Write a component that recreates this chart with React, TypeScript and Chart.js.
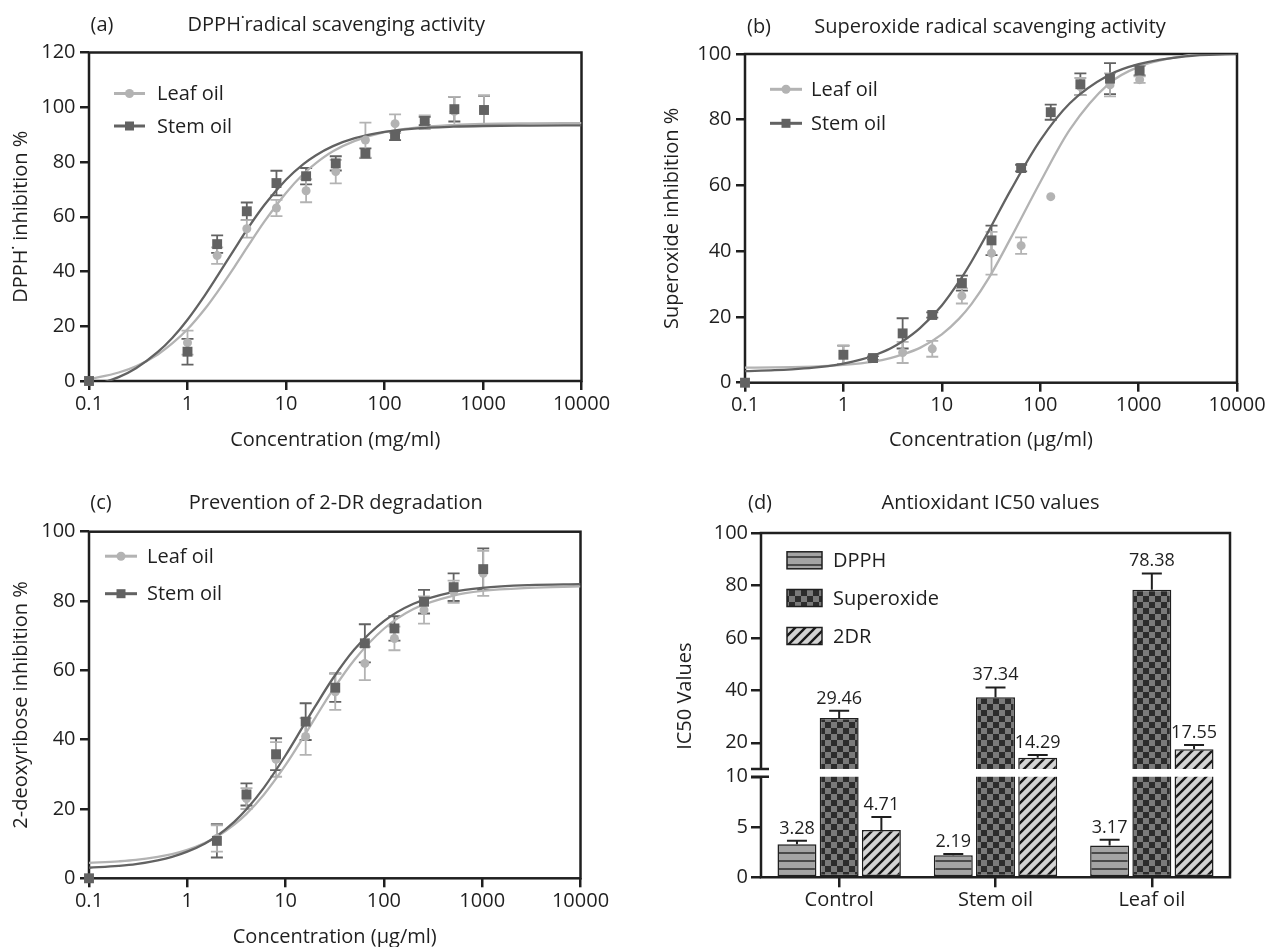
import React, { useEffect, useRef } from 'react';
import { Chart, registerables, LinearScale } from 'chart.js';

Chart.register(...registerables);

// ---------------- data ----------------
const seriesLabels = ['Leaf oil', 'Stem oil'];
const doses = [0.1, 1, 2, 4, 8, 16, 32, 64, 128, 256, 512, 1024];
const fitDoses = [0.1, 0.2, 0.3, 0.5, 0.7, 1, 1.5, 2, 3, 4, 6, 10, 15, 20, 30, 50, 100, 200, 500, 1000, 3000, 10000];
const logTicks = [0.1, 1, 10, 100, 1000, 10000];

// (a) DPPH
const dpphLeaf = [0, 14, 45.8, 55.6, 63.2, 69.5, 76.5, 88, 94, 94.5, 98.5, 98.8];
const dpphLeafSem = [0, 4.4, 3, 3.2, 3, 4.2, 4.3, 6.4, 3.4, 2.5, 5.3, 5.5];
const dpphStem = [0, 10.7, 50, 62, 72.3, 74.8, 79.5, 83.2, 89.5, 95, 99.3, 99];
const dpphStemSem = [0, 4.7, 3.2, 3.2, 4.5, 3, 2.6, 1.8, 1.5, 1.5, 4.5, 5.2];
const dpphLeafFit = [0.6, 3.1, 5.4, 9.7, 13.7, 18.9, 26.3, 32.4, 41.7, 48.6, 58.1, 68.7, 75.6, 79.5, 83.9, 87.7, 90.9, 92.5, 93.5, 93.9, 94.1, 94.2];
const dpphStemFit = [-2.2, 1.4, 4.65, 10.6, 15.7, 22.4, 31.3, 38.2, 48.2, 55.2, 64.2, 73.5, 79.2, 82.4, 85.8, 88.7, 91, 92.2, 92.9, 93.15, 93.3, 93.4];

// (b) Superoxide
const supLeaf = [0, 8.5, 7.5, 9.2, 10.3, 26.4, 39.4, 41.7, 56.6, 90.1, 90.6, 92.2];
const supLeafSem = [0, 2.8, 0.8, 3.2, 2.4, 2.3, 6.5, 2.5, 0, 2.6, 3.5, 1];
const supStem = [0, 8.5, 7.5, 15, 20.6, 30.3, 43.3, 65.3, 82.3, 90.8, 92.5, 95];
const supStemSem = [0, 2.8, 0.6, 4.6, 0.8, 2.3, 4.5, 1, 2.3, 3.3, 4.7, 1.5];
const supLeafFit = [4.57, 4.65, 4.74, 4.92, 5.1, 5.4, 5.9, 6.4, 7.5, 8.6, 10.6, 14.7, 19.5, 23.9, 31.8, 43.9, 61, 77, 91, 96.1, 99.5, 100.6];
const supStemFit = [3.55, 3.8, 4.06, 4.56, 5.06, 5.8, 7.0, 8.2, 10.4, 12.6, 16.6, 23.5, 30.8, 36.8, 46.2, 58.5, 73.7, 85, 93.6, 96.9, 99.3, 100.1];

// (c) 2-deoxyribose
const drLeaf = [0, null, 11.5, 23, 34.3, 40.9, 53.8, 62, 69.2, 77.4, 82.7, 88];
const drLeafSem = [0, 0, 3.8, 3, 5, 5.3, 5.2, 4.8, 3.4, 3.9, 3.2, 6.5];
const drStem = [0, null, 10.8, 24.2, 35.8, 45.2, 55, 67.8, 72.1, 79.8, 84, 89.2];
const drStemSem = [0, 0, 4.8, 3.2, 4.6, 5.3, 4.1, 5.5, 3.5, 3.4, 4, 6];
const drLeafFit = [4.45, 4.9, 5.3, 6.2, 7, 8.2, 10.2, 12, 15.5, 18.6, 24.1, 32.7, 40.5, 46.3, 54.2, 63, 72, 77.7, 81.5, 82.9, 83.8, 84.2];
const drStemFit = [3.05, 3.6, 4.1, 5.2, 6.2, 7.7, 10, 12.2, 16.3, 19.9, 26.1, 35.5, 43.75, 49.6, 57.5, 66, 74.2, 79.2, 82.6, 83.8, 84.6, 84.9];

// (d) IC50
const ic50Groups = ['Control', 'Stem oil', 'Leaf oil'];
const ic50Assays = ['DPPH', 'Superoxide', '2DR'];
const ic50Dpph = [3.28, 2.19, 3.17];
const ic50DpphSem = [0.35, 0.14, 0.56];
const ic50Superoxide = [29.46, 37.34, 78.38];
const ic50SuperoxideSem = [2.74, 3.76, 6.2];
const ic50TwoDR = [4.71, 14.29, 17.55];
const ic50TwoDRSem = [1.29, 1.0, 1.55];
const ic50Ticks = [0, 5, 10, 20, 40, 60, 80, 100];
const ic50Break = 10;

// ---------------- style ----------------
const FONT = '"Open Sans", "DejaVu Sans", sans-serif';
const INK = '#1f1f1f';
const LEAF_COLOR = '#b3b3b3';
const STEM_COLOR = '#626262';
Chart.defaults.font.family = FONT;
Chart.defaults.font.size = 20;
Chart.defaults.color = INK;

// broken linear axis: lower segment 0..break, upper segment break..max
const LOW_SHARE = 0.292;
const HIGH_FROM = 0.3146;
class BrokenLinearScale extends LinearScale {
  static id = 'brokenLinear';
  static defaults = LinearScale.defaults;
  getPixelForValue(value: any) {
    if (value === null || value === undefined || isNaN(value)) return NaN;
    const v = +value;
    const self: any = this;
    const f = v <= ic50Break
      ? ((v - self.min) / (ic50Break - self.min)) * LOW_SHARE
      : HIGH_FROM + ((v - ic50Break) / (self.max - ic50Break)) * (1 - HIGH_FROM);
    return self.bottom - f * (self.bottom - self.top);
  }
  getValueForPixel(pixel: number) {
    const self: any = this;
    const f = (self.bottom - pixel) / (self.bottom - self.top);
    if (f <= LOW_SHARE) return self.min + (f / LOW_SHARE) * (ic50Break - self.min);
    return ic50Break + ((f - HIGH_FROM) / (1 - HIGH_FROM)) * (self.max - ic50Break);
  }
}
Chart.register(BrokenLinearScale as any);

// ---------------- plugins ----------------
const framePlugin = {
  id: 'frame',
  beforeDatasetsDraw(chart: any) {
    const { ctx, chartArea: a } = chart;
    ctx.save();
    ctx.strokeStyle = INK;
    ctx.lineWidth = 2.5;
    ctx.strokeRect(a.left, a.top, a.right - a.left, a.bottom - a.top);
    ctx.restore();
  },
};

const errorBarPlugin = {
  id: 'errorBars',
  beforeDatasetsDraw(chart: any) {
    const { ctx } = chart;
    const xs = chart.scales.x;
    const ys = chart.scales.y;
    chart.data.datasets.forEach((ds: any) => {
      if (!ds.errors) return;
      ctx.save();
      ctx.strokeStyle = ds.borderColor;
      ctx.lineWidth = 1.8;
      ds.data.forEach((pt: any, j: number) => {
        const e = ds.errors[j];
        if (pt.y === null || pt.y === undefined || !e) return;
        const px = xs.getPixelForValue(pt.x);
        const y1 = ys.getPixelForValue(pt.y - e);
        const y2 = ys.getPixelForValue(pt.y + e);
        ctx.beginPath();
        ctx.moveTo(px, y1);
        ctx.lineTo(px, y2);
        ctx.moveTo(px - 6, y1);
        ctx.lineTo(px + 6, y1);
        ctx.moveTo(px - 6, y2);
        ctx.lineTo(px + 6, y2);
        ctx.stroke();
      });
      ctx.restore();
    });
  },
};

function panelTextPlugin(spec: any) {
  return {
    id: 'panelText',
    afterDraw(chart: any) {
      const { ctx, chartArea: a } = chart;
      const cx = (a.left + a.right) / 2;
      ctx.save();
      ctx.fillStyle = INK;
      ctx.font = `20px ${FONT}`;
      ctx.textBaseline = 'middle';
      ctx.textAlign = 'center';
      ctx.fillText(spec.letter, a.left + spec.letterDx, a.top - spec.titleDy);
      ctx.fillText(spec.title, cx + spec.titleDx, a.top - spec.titleDy);
      if (spec.xTitle) ctx.fillText(spec.xTitle, cx, a.bottom + spec.xTitleDy);
      ctx.save();
      ctx.translate(a.left - spec.yTitleDx, (a.top + a.bottom) / 2 + (spec.yTitleDy || 0));
      ctx.rotate(-Math.PI / 2);
      ctx.fillText(spec.yTitle, 0, 0);
      ctx.restore();
      if (spec.legend) {
        const rows = [
          { label: seriesLabels[0], color: LEAF_COLOR, shape: 'circle' },
          { label: seriesLabels[1], color: STEM_COLOR, shape: 'rect' },
        ];
        rows.forEach((r, i) => {
          const y = a.top + spec.legend.rows[i];
          const x0 = a.left + spec.legend.x0;
          const x1 = a.left + spec.legend.x1;
          const mx = (x0 + x1) / 2;
          ctx.strokeStyle = r.color;
          ctx.lineWidth = 3;
          ctx.beginPath();
          ctx.moveTo(x0, y);
          ctx.lineTo(x1, y);
          ctx.stroke();
          ctx.fillStyle = r.color;
          if (r.shape === 'circle') {
            ctx.beginPath();
            ctx.arc(mx, y, 4.5, 0, Math.PI * 2);
            ctx.fill();
          } else {
            ctx.fillRect(mx - 4.5, y - 4.5, 9, 9);
          }
          ctx.fillStyle = INK;
          ctx.textAlign = 'left';
          ctx.fillText(r.label, a.left + spec.legend.textX, y + 1);
        });
      }
      ctx.restore();
    },
  };
}

// ---------------- configs ----------------
function axisGrid(tickLength: number) {
  return { display: true, drawOnChartArea: false, drawTicks: true, tickLength, color: INK, lineWidth: 2.5 };
}

function lineConfig(spec: any) {
  const pts = (ys: any[]) => doses.map((x, i) => ({ x, y: ys[i] }));
  const fit = (ys: number[]) => fitDoses.map((x, i) => ({ x, y: ys[i] }));
  return {
    type: 'scatter',
    data: {
      datasets: [
        { label: seriesLabels[1], data: pts(spec.stem), errors: spec.stemSem, pointStyle: 'rect', pointRadius: 7, pointHoverRadius: 7, backgroundColor: STEM_COLOR, borderColor: STEM_COLOR, borderWidth: 0, clip: false, order: 0 },
        { label: seriesLabels[0], data: pts(spec.leaf), errors: spec.leafSem, pointStyle: 'circle', pointRadius: 4.5, pointHoverRadius: 4.5, backgroundColor: LEAF_COLOR, borderColor: LEAF_COLOR, borderWidth: 0, clip: false, order: 1 },
        { label: seriesLabels[1] + ' fit', data: fit(spec.stemFit), showLine: true, pointRadius: 0, borderColor: STEM_COLOR, borderWidth: 2.3, cubicInterpolationMode: 'monotone', clip: 0, order: 2 },
        { label: seriesLabels[0] + ' fit', data: fit(spec.leafFit), showLine: true, pointRadius: 0, borderColor: LEAF_COLOR, borderWidth: 2.3, cubicInterpolationMode: 'monotone', clip: 0, order: 3 },
      ],
    },
    options: {
      animation: false,
      responsive: false,
      events: [],
      layout: { padding: spec.pad },
      plugins: { legend: { display: false }, tooltip: { enabled: false } },
      scales: {
        x: {
          type: 'logarithmic',
          min: 0.1,
          max: 10000,
          afterBuildTicks: (s: any) => { s.ticks = logTicks.map((v) => ({ value: v })); },
          afterFit: (s: any) => { s.height = 40; s.paddingLeft = 0; s.paddingRight = 0; },
          ticks: { callback: (v: any) => String(v), autoSkip: false, maxRotation: 0, padding: 2, color: INK, font: { size: 20 } },
          grid: axisGrid(9),
          border: { display: false },
        },
        y: {
          type: 'linear',
          min: 0,
          max: spec.yMax,
          ticks: { stepSize: 20, padding: 4.5, color: INK, font: { size: 20 }, autoSkip: false },
          afterFit: (s: any) => { s.width = 60; s.paddingTop = 0; s.paddingBottom = 0; },
          grid: axisGrid(9),
          border: { display: false },
        },
      },
    },
    plugins: [framePlugin, errorBarPlugin, panelTextPlugin(spec)],
  };
}

function makePatterns() {
  const mk = (w: number, h: number, draw: (c: CanvasRenderingContext2D) => void) => {
    const cv = document.createElement('canvas');
    cv.width = w;
    cv.height = h;
    const c = cv.getContext('2d') as CanvasRenderingContext2D;
    draw(c);
    return c.createPattern(cv, 'repeat') as CanvasPattern;
  };
  const stripes = mk(8, 8, (c) => {
    c.fillStyle = '#a4a4a4';
    c.fillRect(0, 0, 8, 8);
    c.fillStyle = '#4a4a4a';
    c.fillRect(0, 6, 8, 2);
  });
  const checker = mk(12, 12, (c) => {
    c.fillStyle = '#7a7a7a';
    c.fillRect(0, 0, 12, 12);
    c.fillStyle = '#2c2c2c';
    c.fillRect(0, 0, 6, 6);
    c.fillRect(6, 6, 6, 6);
  });
  const diagonal = mk(10, 10, (c) => {
    c.fillStyle = '#d4d4d4';
    c.fillRect(0, 0, 10, 10);
    c.strokeStyle = '#1a1a1a';
    c.lineWidth = 2.4;
    c.beginPath();
    c.moveTo(0, 10); c.lineTo(10, 0);
    c.moveTo(-5, 5); c.lineTo(5, -5);
    c.moveTo(5, 15); c.lineTo(15, 5);
    c.stroke();
  });
  return [stripes, checker, diagonal];
}

function ic50Config() {
  const patterns = makePatterns();
  const values = [ic50Dpph, ic50Superoxide, ic50TwoDR];
  const sems = [ic50DpphSem, ic50SuperoxideSem, ic50TwoDRSem];
  const decor = {
    id: 'ic50Decor',
    afterDatasetsDraw(chart: any) {
      const { ctx, chartArea: a } = chart;
      const y = chart.scales.y;
      const yHi = y.getPixelForValue(ic50Break + 1e-6);
      const yLo = y.getPixelForValue(ic50Break);
      ctx.save();
      ctx.fillStyle = '#ffffff';
      ctx.fillRect(a.left - 3, yHi, a.right - a.left + 2, yLo - yHi);
      chart.data.datasets.forEach((ds: any, di: number) => {
        const meta = chart.getDatasetMeta(di);
        meta.data.forEach((bar: any, i: number) => {
          const v = ds.data[i];
          const top = y.getPixelForValue(v + ds.errors[i]);
          ctx.strokeStyle = INK;
          ctx.lineWidth = 2;
          ctx.beginPath();
          ctx.moveTo(bar.x, bar.y);
          ctx.lineTo(bar.x, top);
          ctx.moveTo(bar.x - 10, top);
          ctx.lineTo(bar.x + 10, top);
          ctx.stroke();
          ctx.fillStyle = INK;
          ctx.font = `18px ${FONT}`;
          ctx.textAlign = 'center';
          ctx.textBaseline = 'alphabetic';
          ctx.fillText(v.toFixed(2), bar.x, top - 7);
        });
      });
      ctx.strokeStyle = INK;
      ctx.lineWidth = 2.5;
      ctx.beginPath();
      ctx.moveTo(a.left, yHi);
      ctx.lineTo(a.left, a.top);
      ctx.lineTo(a.right, a.top);
      ctx.lineTo(a.right, a.bottom);
      ctx.lineTo(a.left, a.bottom);
      ctx.lineTo(a.left, yLo);
      ctx.moveTo(a.left - 10, yHi);
      ctx.lineTo(a.left + 8, yHi);
      ctx.moveTo(a.left - 10, yLo);
      ctx.lineTo(a.left + 8, yLo);
      ctx.stroke();
      ctx.restore();
    },
    afterDraw(chart: any) {
      const { ctx, chartArea: a } = chart;
      ctx.save();
      ctx.fillStyle = INK;
      ctx.font = `20px ${FONT}`;
      ctx.textBaseline = 'middle';
      ctx.textAlign = 'center';
      ctx.fillText('(d)', a.left - 1, a.top - 30);
      ctx.fillText('Antioxidant IC50 values', (a.left + a.right) / 2 - 5, a.top - 30);
      ctx.save();
      ctx.translate(a.left - 76, (a.top + a.bottom) / 2 - 9);
      ctx.rotate(-Math.PI / 2);
      ctx.fillText('IC50 Values', 0, 0);
      ctx.restore();
      const rowY = [27.3, 65, 103];
      ic50Assays.forEach((name, i) => {
        const yy = a.top + rowY[i];
        ctx.fillStyle = patterns[i];
        ctx.fillRect(a.left + 26, yy - 8.5, 35, 17);
        ctx.strokeStyle = INK;
        ctx.lineWidth = 1.5;
        ctx.strokeRect(a.left + 26, yy - 8.5, 35, 17);
        ctx.fillStyle = INK;
        ctx.textAlign = 'left';
        ctx.fillText(name, a.left + 72, yy + 1);
      });
      ctx.restore();
    },
  };
  return {
    type: 'bar',
    data: {
      labels: ic50Groups,
      datasets: ic50Assays.map((name, i) => ({
        label: name,
        data: values[i],
        errors: sems[i],
        backgroundColor: patterns[i],
        borderColor: INK,
        borderWidth: 1.5,
        borderSkipped: false,
        categoryPercentage: 0.81,
        barPercentage: 0.923,
      })),
    },
    options: {
      animation: false,
      responsive: false,
      events: [],
      layout: { padding: { left: 68, top: 63, right: 37, bottom: 29.7 } },
      plugins: { legend: { display: false }, tooltip: { enabled: false } },
      scales: {
        x: {
          type: 'category',
          offset: true,
          grid: { ...axisGrid(10), offset: false },
          border: { display: false },
          ticks: { padding: 1, color: INK, font: { size: 20 }, autoSkip: false, maxRotation: 0 },
          afterFit: (s: any) => { s.height = 40; s.paddingLeft = 0; s.paddingRight = 0; },
        },
        y: {
          type: 'brokenLinear',
          min: 0,
          max: 100,
          afterBuildTicks: (s: any) => { s.ticks = ic50Ticks.map((v) => ({ value: v })); },
          ticks: { callback: (v: any) => String(v), autoSkip: false, padding: 3, color: INK, font: { size: 20 } },
          grid: axisGrid(10),
          border: { display: false },
          afterFit: (s: any) => { s.width = 60; s.paddingTop = 0; s.paddingBottom = 0; },
        },
      },
    },
    plugins: [decor],
  };
}

// ---------------- panels ----------------
const panelA = {
  box: { left: 0, top: 0, width: 633, height: 470 },
  pad: { left: 29, top: 52.5, right: 51.5, bottom: 49 },
  yMax: 120,
  letter: '(a)', letterDx: 13, titleDy: 27.5, titleDx: 1,
  title: 'DPPH˙radical scavenging activity',
  yTitle: 'DPPH˙ inhibition %', yTitleDx: 68,
  xTitle: 'Concentration (mg/ml)', xTitleDy: 59,
  legend: { x0: 25, x1: 56, textX: 68, rows: [41, 73.5] },
  leaf: dpphLeaf, leafSem: dpphLeafSem, stem: dpphStem, stemSem: dpphStemSem,
  leafFit: dpphLeafFit, stemFit: dpphStemFit,
};
const panelB = {
  box: { left: 633, top: 0, width: 634, height: 470 },
  pad: { left: 52, top: 54, right: 30, bottom: 47.3 },
  yMax: 100,
  letter: '(b)', letterDx: 14, titleDy: 27, titleDx: -1,
  title: 'Superoxide radical scavenging activity',
  yTitle: 'Superoxide inhibition %', yTitleDx: 73,
  xTitle: 'Concentration (μg/ml)', xTitleDy: 58,
  legend: { x0: 25, x1: 57, textX: 66, rows: [35.3, 69.3] },
  leaf: supLeaf, leafSem: supLeafSem, stem: supStem, stemSem: supStemSem,
  leafFit: supLeafFit, stemFit: supStemFit,
};
const panelC = {
  box: { left: 0, top: 470, width: 633, height: 477 },
  pad: { left: 29, top: 61.7, right: 52.5, bottom: 28.7 },
  yMax: 100,
  letter: '(c)', letterDx: 12, titleDy: 28.7, titleDx: 1,
  title: 'Prevention of 2-DR degradation',
  yTitle: '2-deoxyribose inhibition %', yTitleDx: 68,
  xTitle: 'Concentration (μg/ml)', xTitleDy: 59,
  legend: { x0: 16, x1: 48, textX: 58, rows: [24.5, 62] },
  leaf: drLeaf, leafSem: drLeafSem, stem: drStem, stemSem: drStemSem,
  leafFit: drLeafFit, stemFit: drStemFit,
};
const boxD = { left: 633, top: 470, width: 634, height: 477 };

function ChartPanel({ box, build }: any) {
  const ref = useRef<HTMLCanvasElement | null>(null);
  useEffect(() => {
    const chart = new Chart(ref.current as HTMLCanvasElement, build() as any);
    return () => chart.destroy();
  }, []);
  return (
    <div style={{ position: 'absolute', left: box.left, top: box.top, width: box.width, height: box.height }}>
      <canvas ref={ref} width={box.width} height={box.height} style={{ display: 'block', width: box.width, height: box.height }} />
    </div>
  );
}

export default function App() {
  return (
    <div style={{ position: 'absolute', left: 0, top: 0, width: 1267, height: 947, background: '#ffffff', overflow: 'hidden' }}>
      <ChartPanel box={panelA.box} build={() => lineConfig(panelA)} />
      <ChartPanel box={panelB.box} build={() => lineConfig(panelB)} />
      <ChartPanel box={panelC.box} build={() => lineConfig(panelC)} />
      <ChartPanel box={boxD} build={ic50Config} />
    </div>
  );
}
